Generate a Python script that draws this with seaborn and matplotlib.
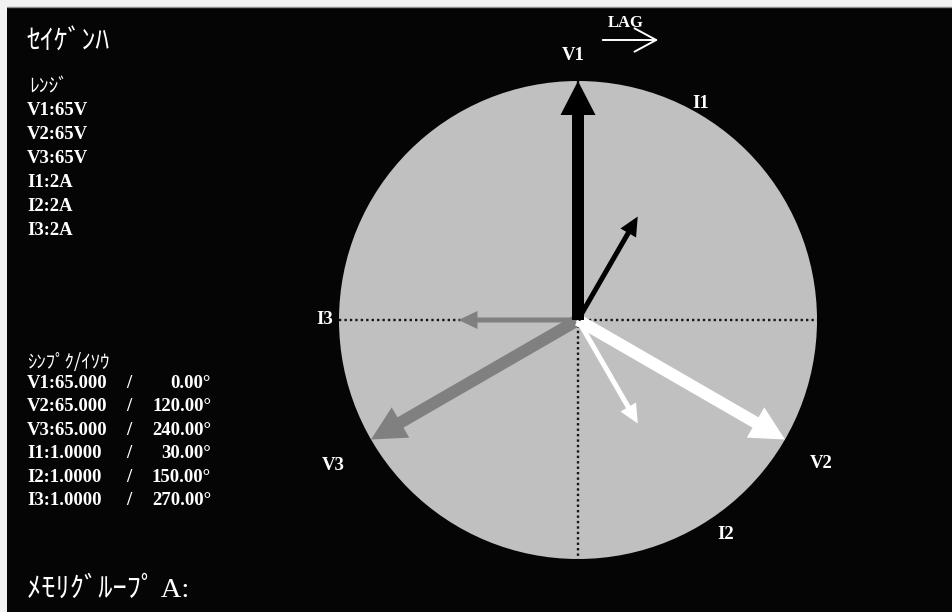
import numpy as np
import pandas as pd
import matplotlib
matplotlib.use("Agg")
import matplotlib.pyplot as plt
from matplotlib.patches import Circle, Rectangle
import seaborn as sns

# ---------------- data ----------------
vec_names = ["V1", "V2", "V3", "I1", "I2", "I3"]
vec_mags = [65.0, 65.0, 65.0, 1.0, 1.0, 1.0]
vec_angles = [0.0, 120.0, 240.0, 30.0, 150.0, 270.0]
range_vals = [65, 65, 65, 2, 2, 2]
range_units = ["V", "V", "V", "A", "A", "A"]
vec_colors = ["#000000", "#ffffff", "#808080", "#000000", "#ffffff", "#808080"]

title_text = "ｾｲｹﾞﾝﾊ"
range_title = "ﾚﾝｼﾞ"
value_title = "ｼﾝﾌﾟｸ/ｲｿｳ"
memory_text = "ﾒﾓﾘｸﾞﾙｰﾌﾟ A:"
lag_text = "LAG"

# label positions (pixels) for vector names
label_pos = {"V1": (573, 55), "I1": (701, 103), "V2": (821, 463),
             "V3": (333, 465), "I2": (726, 534), "I3": (325, 319)}

# ---------------- layout ----------------
W, H = 952, 612
CX, CY, R = 578.0, 320.0, 239.0
FS = 13.5

sns.set_theme(style="dark")
plt.rcParams["font.family"] = ["Liberation Serif", "Noto Sans CJK JP", "DejaVu Sans"]

fig = plt.figure(figsize=(W / 100, H / 100), dpi=100, facecolor="#f2f2f2")
ax = fig.add_axes([7 / W, 0, (W - 7) / W, (H - 7) / H])
ax.set_facecolor("#050505")
ax.set_xlim(7, W)
ax.set_ylim(H, 7)
ax.set_aspect("equal", adjustable="box")
ax.axis("off")
ax.add_patch(Rectangle((7, 7), W, H, color="#050505", zorder=0))

# circle
ax.add_patch(Circle((CX, CY), R, facecolor="#c0c0c0", edgecolor="none", zorder=1))

# dotted cross lines
hline = pd.DataFrame({"x": [CX - R, CX + R], "y": [CY, CY]})
vline = pd.DataFrame({"x": [CX, CX], "y": [CY - R, CY + R]})
for df in (hline, vline):
    sns.lineplot(data=df, x="x", y="y", ax=ax, estimator=None, sort=False,
                 color="#151515", linewidth=1.7, linestyle=(0, (1, 1.3)), zorder=2)

# vectors
order = [2, 5, 1, 4, 0, 3]
for i in order:
    name = vec_names[i]
    frac = vec_mags[i] / range_vals[i]
    length = frac * R
    th = np.deg2rad(vec_angles[i])
    dx = length * np.sin(th)
    dy = -length * np.cos(th)
    if name.startswith("V"):
        w, hw, hl = 12, 35, 34
    else:
        w, hw, hl = 5, 18, 19
    ax.arrow(CX, CY, dx, dy, width=w, head_width=hw, head_length=hl,
             length_includes_head=True, color=vec_colors[i], linewidth=0,
             zorder=3 + order.index(i))

# vector labels
for name in vec_names:
    x, y = label_pos[name]
    ax.text(x, y, name, color="white", fontsize=FS, fontweight="bold",
            ha="center", va="center", zorder=10)

# LAG arrow
ax.text(626, 23, lag_text, color="white", fontsize=12, fontweight="bold",
        ha="center", va="center")
ax.annotate("", xy=(661, 40), xytext=(600, 40),
            arrowprops=dict(arrowstyle="->,head_length=1.3,head_width=0.7",
                            color="white", lw=1.4))

# left text blocks
TX = 27
ax.text(TX, 50, title_text, color="white", fontsize=20, ha="left", va="baseline",
        family=["Noto Sans CJK JP"])
ax.text(TX + 2, 92, range_title, color="white", fontsize=14, ha="left", va="baseline",
        family=["Noto Sans CJK JP"])
for i, name in enumerate(vec_names):
    ax.text(TX, 115 + 24 * i, f"{name}:{range_vals[i]}{range_units[i]}", color="white",
            fontsize=FS, fontweight="bold", ha="left", va="baseline")

ax.text(TX, 368, value_title, color="white", fontsize=13.5, ha="left", va="baseline",
        family=["Noto Sans CJK JP", "Liberation Serif"])
for i, name in enumerate(vec_names):
    yb = 388 + 23.4 * i
    if name.startswith("V"):
        mag = f"{vec_mags[i]:.3f}"
    else:
        mag = f"{vec_mags[i]:.4f}"
    ax.text(TX, yb, f"{name}:{mag}", color="white", fontsize=FS, fontweight="bold",
            ha="left", va="baseline")
    ax.text(129, yb, "/", color="white", fontsize=FS, fontweight="bold",
            ha="center", va="baseline")
    ax.text(211, yb, f"{vec_angles[i]:.2f}°", color="white", fontsize=FS,
            fontweight="bold", ha="right", va="baseline")

ax.text(TX, 597, memory_text, color="white", fontsize=20.5, ha="left", va="baseline")

# top frame line
fig.add_artist(plt.Line2D([7 / W, 1], [1 - 6.5 / H, 1 - 6.5 / H], color="#909090", lw=1,
                          transform=fig.transFigure))

fig.savefig("out.png", dpi=100, facecolor=fig.get_facecolor())
